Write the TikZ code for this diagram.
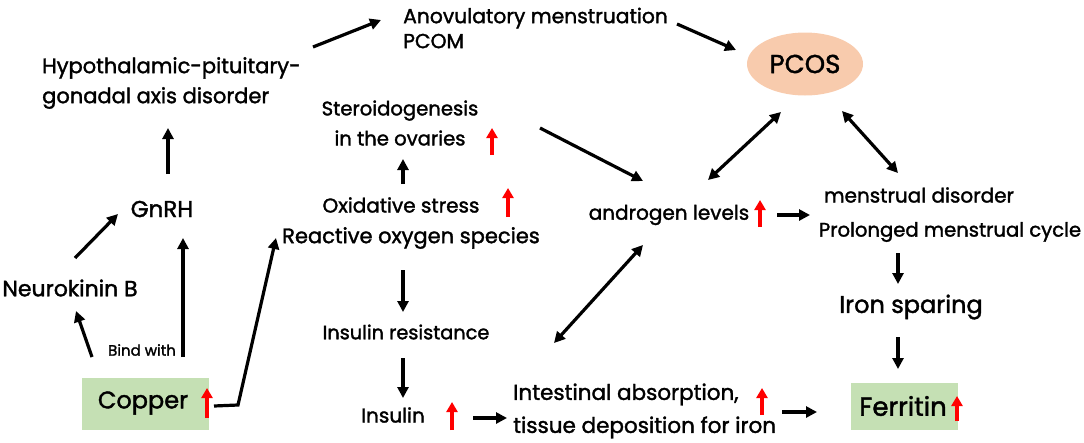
\documentclass[tikz,border=0pt]{standalone}
\usepackage{fontspec}
\setmainfont{Poppins}[FakeBold=1.6]
\usetikzlibrary{arrows.meta,shapes.geometric}
\definecolor{peach}{HTML}{F8CBAD}
\definecolor{lgreen}{HTML}{C5E0B4}
\newcommand{\fs}[2]{\fontsize{#1}{#2}\selectfont}
\tikzset{
  txt/.style={inner sep=0pt, align=left},
  arr/.style={line width=3.2pt, -{Triangle[length=11pt,width=11pt]}},
  darr/.style={line width=3.2pt, {Triangle[length=11pt,width=11pt]}-{Triangle[length=11pt,width=11pt]}},
  upr/.style={red, line width=3.5pt, -{Triangle[length=10pt,width=11pt]}},
  greenbox/.style={fill=lgreen, inner sep=0pt},
}
\begin{document}
\begin{tikzpicture}[x=1pt,y=-1pt]
\useasboundingbox (0,0) rectangle (1084,442);
% nodes
\node[txt, anchor=west, font=\fs{20.3}{25}] (anov) at (403,28) {Anovulatory menstruation\\PCOM};
\node[ellipse, fill=peach, minimum width=116pt, minimum height=63pt, inner sep=0pt, font=\fs{26}{30}] (pcos) at (805,64) {PCOS};
\node[txt, anchor=west, font=\fs{21}{30}] (hpg) at (42,83) {Hypothalamic-pituitary-\\gonadal axis disorder};
\node[txt, align=center, font=\fs{19.6}{30}] (ster) at (400,123) {Steroidogenesis\\in the ovaries};
\node[txt, font=\fs{20}{24}] (ox) at (401,205) {Oxidative stress};
\node[txt, font=\fs{21}{24}] (ros) at (411,238) {Reactive oxygen species};
\node[txt, font=\fs{23}{26}] (gnrh) at (162,209) {GnRH};
\node[txt, font=\fs{22}{26}] (neuro) at (70,288) {Neurokinin B};
\node[txt, font=\fs{15}{18}] (bind) at (142,350) {Bind with};
\node[greenbox, minimum width=127pt, minimum height=52pt] (copper) at (145.5,404) {};
\node[txt, font=\fs{24}{28}] (coppert) at (143,403) {Copper};
\node[txt, font=\fs{19.3}{24}] (insres) at (406,332) {Insulin resistance};
\node[txt, font=\fs{20}{24}] (insulin) at (393,415) {Insulin};
\node[txt, anchor=west, font=\fs{21.5}{33}] (intest) at (513,411) {Intestinal absorption,\\tissue deposition for iron};
\node[txt, font=\fs{20}{24}] (andr) at (669,215) {androgen levels};
\node[txt, font=\fs{20}{24}] (md) at (919,195) {menstrual disorder};
\node[txt, font=\fs{19.6}{24}] (pmc) at (950,232) {Prolonged menstrual cycle};
\node[txt, font=\fs{24}{28}] (iron) at (911,307) {Iron sparing};
\node[greenbox, minimum width=107pt, minimum height=47pt] (ferritin) at (904.5,406.5) {};
\node[txt, font=\fs{26}{30}] (ferritint) at (903,406) {Ferritin};
% red up arrows
\draw[upr] (492,155) -- (492,128);
\draw[upr] (508,217) -- (508,188);
\draw[upr] (760,227) -- (760,200);
\draw[upr] (207,418) -- (207,388);
\draw[upr] (452,430) -- (452,402);
\draw[upr] (762,415) -- (762,388);
\draw[upr] (957,421) -- (957,396);
% connector end points
\coordinate (hpg-o) at (313,47);   \coordinate (anov-i) at (381,20);
\coordinate (anov-o) at (677,24);  \coordinate (pcos-i) at (736,50);
\coordinate (gnrh-o) at (168,174); \coordinate (hpg-i) at (168,128);
\coordinate (neuro-o) at (75,258); \coordinate (gnrh-i) at (118,214);
\coordinate (cu-o1) at (92,357);   \coordinate (neuro-i) at (76,311);
\coordinate (cu-o2) at (183,357);  \coordinate (gnrh-i2) at (183,238);
\coordinate (cu-o3) at (214,406);  \coordinate (cu-bend) at (238,405); \coordinate (ros-i) at (276,238);
\coordinate (ox-o) at (403,184);   \coordinate (ster-i) at (403,159);
\coordinate (ros-o) at (403,270);  \coordinate (insres-i) at (403,312);
\coordinate (insres-o) at (403,358); \coordinate (insulin-i) at (403,398);
\coordinate (insulin-o) at (473,418); \coordinate (intest-i) at (507,418);
\coordinate (intest-o) at (782,412); \coordinate (ferr-i) at (817,412);
\coordinate (ster-o) at (540,128);  \coordinate (andr-i) at (643,181);
\coordinate (andr-a) at (708,180);  \coordinate (pcos-a) at (781,112);
\coordinate (pcos-b) at (842,111);  \coordinate (md-b) at (898,173);
\coordinate (andr-o) at (777,215);  \coordinate (md-i) at (810,215);
\coordinate (insres-c) at (554,343); \coordinate (andr-c) at (643,245);
\coordinate (pmc-o) at (898,253);   \coordinate (iron-i) at (898,284);
\coordinate (iron-o) at (898,337);  \coordinate (ferr-i2) at (898,369);
% connectors
\draw[arr] (hpg-o) -- (anov-i);
\draw[arr] (anov-o) -- (pcos-i);
\draw[arr] (gnrh-o) -- (hpg-i);
\draw[arr] (neuro-o) -- (gnrh-i);
\draw[arr] (cu-o1) -- (neuro-i);
\draw[arr] (cu-o2) -- (gnrh-i2);
\draw[arr] (cu-o3) -- (cu-bend) -- (ros-i);
\draw[arr] (ox-o) -- (ster-i);
\draw[arr] (ros-o) -- (insres-i);
\draw[arr] (insres-o) -- (insulin-i);
\draw[arr] (insulin-o) -- (intest-i);
\draw[arr] (intest-o) -- (ferr-i);
\draw[arr] (ster-o) -- (andr-i);
\draw[darr] (andr-a) -- (pcos-a);
\draw[darr] (pcos-b) -- (md-b);
\draw[arr] (andr-o) -- (md-i);
\draw[darr] (insres-c) -- (andr-c);
\draw[arr] (pmc-o) -- (iron-i);
\draw[arr] (iron-o) -- (ferr-i2);
\end{tikzpicture}
\end{document}
